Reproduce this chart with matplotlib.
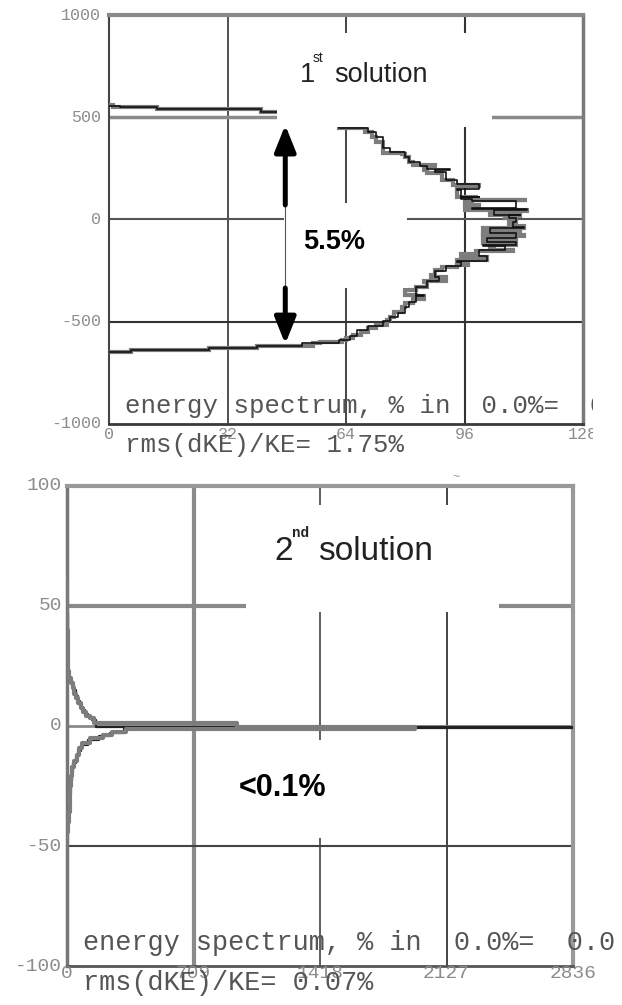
import matplotlib
matplotlib.use("Agg")
import matplotlib.pyplot as plt
from matplotlib.patches import Rectangle
from matplotlib.transforms import Bbox, TransformedBbox, offset_copy

W, H, DPI = 622, 1005, 100

# ---------------- 1st solution: energy contour (count vs energy offset) ----------------
sol1_gray_count = [0, 1, 13, 41, 53, 62, 69, 71, 72, 74, 74, 79, 80, 81, 82, 88, 85, 86, 90, 93,
                   100, 94, 94, 99, 97, 113, 98, 96, 100, 96, 106, 113, 103, 111, 107, 110, 108,
                   112, 101, 111, 101, 112, 101, 110, 101, 110, 103, 104, 109, 99, 95, 102, 94,
                   97, 94, 90, 88, 87, 91, 85, 86, 83, 80, 83, 85, 82, 80, 79, 77, 76, 75, 72,
                   70, 68, 66, 64, 63, 57, 55, 40, 27, 6, 0]
sol1_gray_energy = [562, 550, 540, 526, 511, 447, 428, 404, 380, 355, 325, 318, 306, 281, 266, 262,
                    242, 227, 193, 169, 165, 144, 110, 106, 95, 95, 88, 70, 66, 46, 46, 42, 22, 18,
                    7, -10, -30, -42, -61, -65, -75, -80, -95, -100, -115, -125, -134, -149, -152,
                    -170, -183, -200, -208, -223, -230, -247, -270, -281, -300, -306, -330, -345,
                    -369, -375, -390, -408, -428, -452, -477, -491, -516, -530, -548, -565, -578,
                    -590, -600, -604, -618, -628, -638, -648, -648]
sol1_black_count = [0, 3, 13, 41, 50, 62, 70, 72, 74, 76, 80, 81, 84, 86, 92, 88, 91, 94, 100, 94,
                    95, 100, 95, 98, 110, 98, 113, 104, 111, 108, 110, 109, 112, 103, 110, 102,
                    110, 101, 107, 100, 102, 94, 95, 91, 88, 89, 86, 83, 85, 83, 81, 80, 78, 76,
                    74, 70, 67, 65, 62, 57, 52, 40, 27, 6, 0]
sol1_black_energy = [556, 548, 538, 524, 514, 449, 430, 405, 352, 330, 308, 283, 262, 245, 240, 230,
                     195, 172, 150, 146, 112, 108, 100, 92, 56, 52, 48, 24, 20, 5, -12, -35, -44,
                     -65, -90, -110, -125, -128, -150, -180, -205, -210, -225, -250, -280, -300,
                     -330, -370, -375, -405, -430, -455, -478, -495, -520, -540, -570, -588, -602,
                     -606, -620, -630, -640, -650, -650]
sol1_xticks = [0, 32, 64, 96, 128]
sol1_xlabels = ["0", "32", "64", "96", "128"]
sol1_yticks = [1000, 500, 0, -500, -1000]
sol1_ylabels = ["1000", "500", "0", "-500", "-1000"]
sol1_spread = "5.5%"
sol1_rms = "1.75%"

# ---------------- 2nd solution ----------------
sol2_gray_count = [0, 1, 0, 2, 3, 5, 10, 22, 32, 42, 52, 64, 78, 92, 108, 128, 150, 953, 1950,
                   330, 250, 200, 130, 85, 70, 56, 42, 30, 22, 18, 15, 10, 5, 0]
sol2_gray_energy = [60, 52, 48, 40, 30, 23, 20, 18, 16, 13.5, 11.5, 9.5, 7.5, 5.8, 4.3, 3.2, 1.3,
                    -0.5, -1.3, -2.3, -3.6, -5.2, -7, -9, -12, -14.5, -17, -21, -25, -30, -36,
                    -40, -44, -47]
sol2_black_count = [0, 2, 1, 3, 4, 8, 16, 26, 38, 48, 60, 72, 86, 100, 118, 140, 160, 2836, 320,
                    240, 180, 115, 80, 62, 48, 36, 26, 20, 16, 12, 7, 2, 0]
sol2_black_energy = [58, 55, 47, 35, 25, 21, 19, 17, 15, 12.5, 10.5, 8.5, 6.5, 5, 3.8, 2.5, -0.3,
                     -1.0, -2.8, -4.2, -6, -8, -10.5, -13, -15.5, -19, -23, -28, -33, -38, -42,
                     -45, -46]
sol2_xticks = [0, 709, 1418, 2127, 2836]
sol2_xlabels = ["0", "709", "1418", "2127", "2836"]
sol2_yticks = [100, 50, 0, -50, -100]
sol2_ylabels = ["100", "50", "0", "-50", "-100"]
sol2_spread = "<0.1%"
sol2_rms = "0.07%"

MONO = ["Liberation Mono", "DejaVu Sans Mono"]
SANS = ["Liberation Sans", "DejaVu Sans"]

fig = plt.figure(figsize=(W / DPI, H / DPI), dpi=DPI)
fig.patch.set_facecolor("white")


def fx(x):
    return x / W


def fy(y):
    return 1 - y / H


def axes_at(left, top, right, bottom):
    return fig.add_axes([fx(left), fy(bottom), fx(right) - fx(left), fy(top) - fy(bottom)])


def tick_labels(ax, xt, xl, yt, yl, size, xpad, ypad, color, clip=None):
    xtr = offset_copy(ax.get_xaxis_transform(), fig=fig, x=0, y=-xpad, units="dots")
    ytr = offset_copy(ax.get_yaxis_transform(), fig=fig, x=-ypad, y=0, units="dots")
    for v, s in zip(xt, xl):
        t = ax.text(v, 0, s, transform=xtr, ha="center", va="top", fontsize=size,
                    family=MONO, color=color, clip_on=False)
        if clip is not None:
            t.set_clip_box(clip)
            t.set_clip_on(True)
    for v, s in zip(yt, yl):
        ax.text(0, v, s, transform=ytr, ha="right", va="center", fontsize=size,
                family=MONO, color=color, clip_on=False)


def style_axes(ax, spine_specs):
    ax.set_xticks([])
    ax.set_yticks([])
    for side, (col, lw) in spine_specs.items():
        ax.spines[side].set_color(col)
        ax.spines[side].set_linewidth(lw)


# ======================= top panel =======================
ax1 = axes_at(109, 15, 583, 424)
ax1.set_xlim(0, 128)
ax1.set_ylim(-1000, 1000)
style_axes(ax1, {"top": ("#8a8a8a", 3.0), "left": ("#444444", 1.5),
                 "bottom": ("#3a3a3a", 2.0), "right": ("#7a7a7a", 2.5)})

ax1.axvline(32, color="#333333", lw=1.2, zorder=1)
ax1.axvline(64, color="#444444", lw=1.4, zorder=1)
ax1.axvline(96, color="#333333", lw=1.5, zorder=1)
ax1.axhline(500, color="#8a8a8a", lw=2.5, zorder=1)
ax1.axhline(0, color="#555555", lw=1.5, zorder=1)
ax1.axhline(-500, color="#333333", lw=1.5, zorder=1)

ax1.plot(sol1_gray_count, sol1_gray_energy, drawstyle="steps-post", color="#7d7d7d",
         lw=3.0, zorder=3, solid_joinstyle="miter")
ax1.plot(sol1_black_count, sol1_black_energy, drawstyle="steps-post", color="#111111",
         lw=1.2, zorder=4)

# white label panels laid over the plot
ax1.add_patch(Rectangle((45.4, 452), 58.0, 460, facecolor="white", edgecolor="none", zorder=5))
ax1.add_patch(Rectangle((47.2, -335), 33.3, 416, facecolor="white", edgecolor="none", zorder=5))

# double arrow marking the energy spread
arrow_x = 47.6
ax1.plot([arrow_x, arrow_x], [71, -335], color="#555555", lw=0.8, zorder=6)
head = dict(arrowstyle="-|>,head_length=1.0,head_width=0.4", lw=3.6, color="black",
            mutation_scale=16, shrinkA=0, shrinkB=0)
ax1.annotate("", xy=(arrow_x, 462), xytext=(arrow_x, 71), arrowprops=head, zorder=7)
ax1.annotate("", xy=(arrow_x, -609), xytext=(arrow_x, -335), arrowprops=head, zorder=7)

clip_top = TransformedBbox(Bbox.from_extents(0, 0, fx(593), 1), fig.transFigure)
tick_labels(ax1, sol1_xticks, sol1_xlabels, sol1_yticks, sol1_ylabels, 12, 3, 8, "#8c8c8c",
            clip=clip_top)

fig.text(fx(300), fy(82), "1", fontsize=19.5, family=SANS, color="#222222")
fig.text(fx(313), fy(62), "st", fontsize=10, family=SANS, color="#222222")
fig.text(fx(334), fy(82), "solution", fontsize=19.5, family=SANS, color="#222222")
fig.text(fx(334), fy(242), sol1_spread, fontsize=19.5, family=SANS, weight="bold",
         ha="center", va="center", color="black")

t = fig.text(fx(125), fy(413), "energy spectrum, % in  0.0%=  0.0", fontsize=18.5,
             family=MONO, color="#555555")
t.set_clip_box(clip_top)
t.set_clip_on(True)
fig.text(fx(125), fy(452), "rms(dKE)/KE= " + sol1_rms, fontsize=18.5, family=MONO,
         color="#555555")

# ======================= bottom panel =======================
ax2 = axes_at(67, 486, 573, 966)
ax2.set_xlim(0, 2836)
ax2.set_ylim(-100, 100)
style_axes(ax2, {"top": ("#999999", 3.0), "left": ("#777777", 2.5),
                 "bottom": ("#555555", 2.0), "right": ("#999999", 3.0)})

ax2.axvline(709, color="#8a8a8a", lw=3.0, zorder=1)
ax2.axvline(1418, color="#444444", lw=1.2, zorder=1)
ax2.axvline(2127, color="#444444", lw=1.4, zorder=1)
ax2.axhline(50, color="#8a8a8a", lw=3.0, zorder=1)
ax2.axhline(0, color="#8a8a8a", lw=2.0, zorder=1)
ax2.axhline(-50, color="#444444", lw=1.5, zorder=1)

ax2.plot(sol2_black_count, sol2_black_energy, drawstyle="steps-post", color="#222222",
         lw=1.6, zorder=3)
ax2.plot(sol2_gray_count, sol2_gray_energy, drawstyle="steps-post", color="#7d7d7d",
         lw=3.0, zorder=4)

ax2.add_patch(Rectangle((1003, 47.5), 1418, 44.5, facecolor="white", edgecolor="none", zorder=5))
ax2.add_patch(Rectangle((942, -46.7), 560, 40.9, facecolor="white", edgecolor="none", zorder=5))

tick_labels(ax2, sol2_xticks, sol2_xlabels, sol2_yticks, sol2_ylabels, 14, -1, 5, "#8c8c8c")

fig.text(fx(274), fy(560), "2", fontsize=24, family=SANS, color="#222222")
fig.text(fx(292), fy(537), "nd", fontsize=10, family=SANS, weight="bold", color="#222222")
fig.text(fx(318), fy(560), "solution", fontsize=24, family=SANS, color="#222222")
fig.text(fx(282), fy(788), sol2_spread, fontsize=22, family=SANS, weight="bold",
         ha="center", va="center", color="black")

fig.text(fx(83), fy(950), "energy spectrum, % in  0.0%=  0.0", fontsize=19.4,
         family=MONO, color="#555555")
fig.text(fx(83), fy(990), "rms(dKE)/KE= " + sol2_rms, fontsize=19.4, family=MONO,
         color="#555555")
fig.text(fx(456), fy(480), "~", fontsize=9, family=SANS, color="#999999", ha="center")

fig.savefig("out.png", dpi=DPI, facecolor="white")
